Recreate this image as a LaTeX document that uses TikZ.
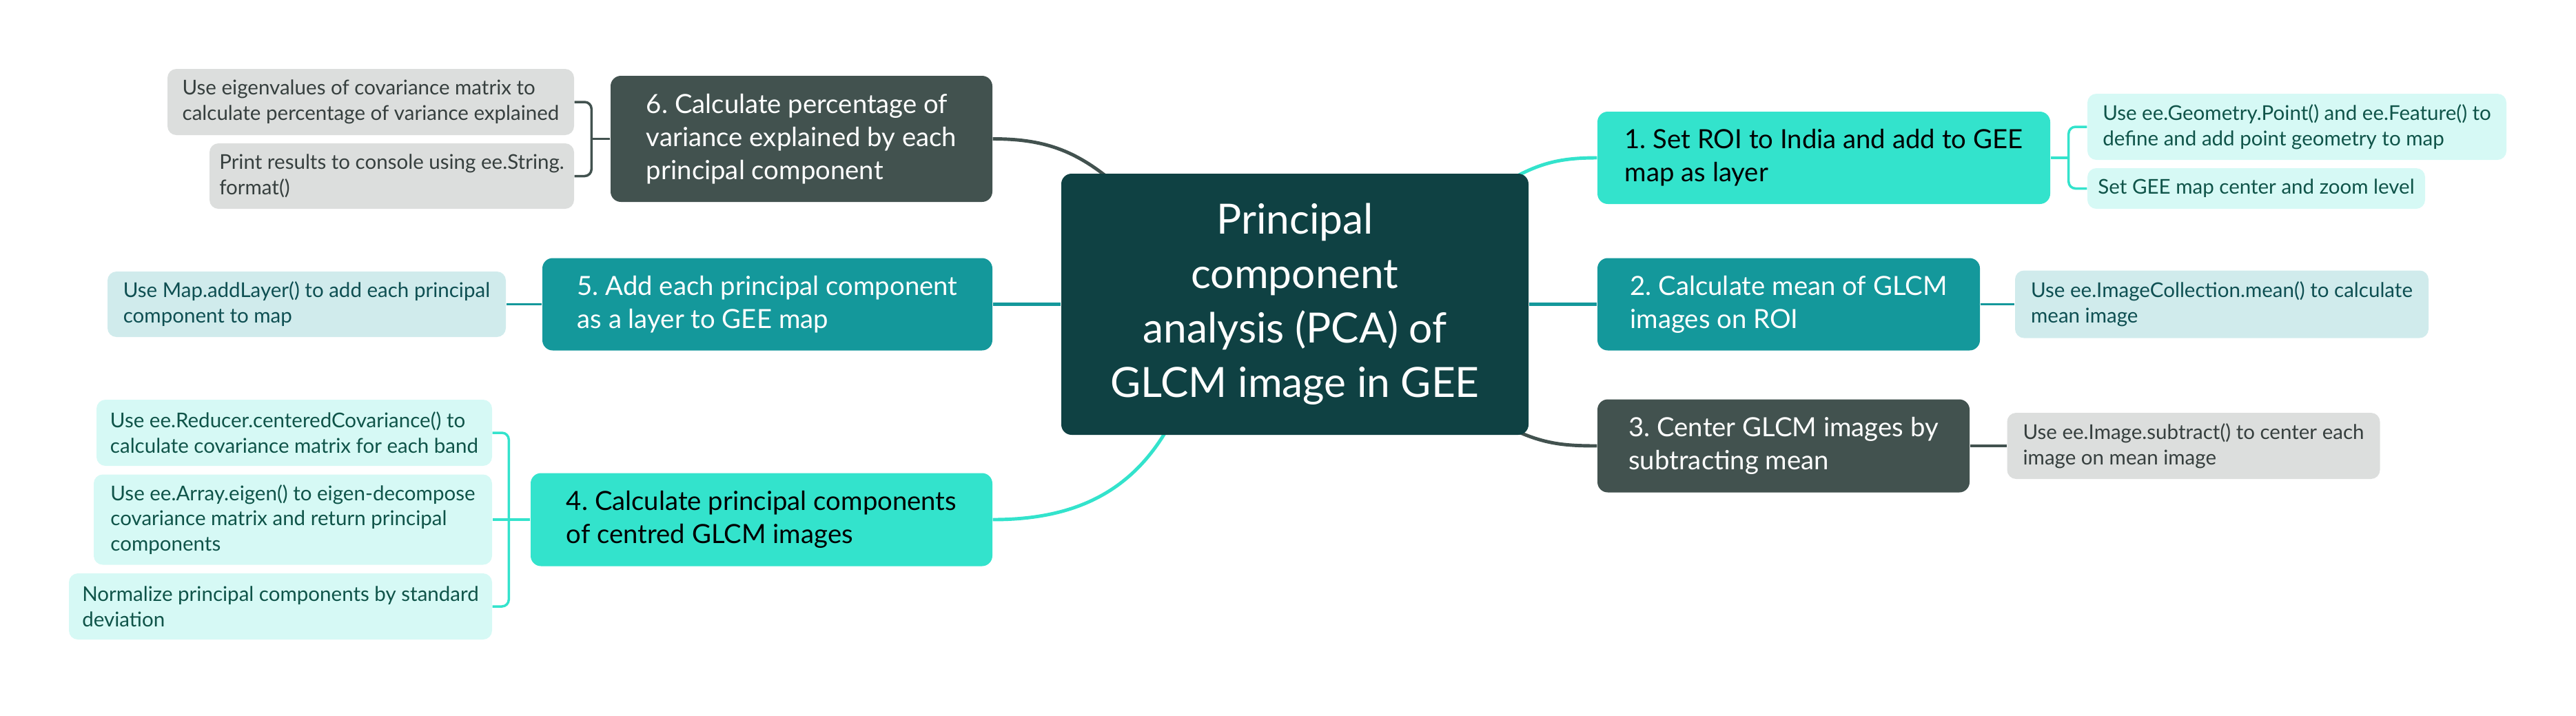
\documentclass[tikz,border=0pt]{standalone}
\usepackage{fontspec}
\setmainfont{Lato}
\usetikzlibrary{backgrounds,calc}
\definecolor{deep}{HTML}{0F4143}
\definecolor{aqua}{HTML}{33E3CC}
\definecolor{sea}{HTML}{14989B}
\definecolor{slate}{HTML}{42524F}
\definecolor{aquaL}{HTML}{D6F9F5}
\definecolor{seaL}{HTML}{D0EBEC}
\definecolor{slateL}{HTML}{DCDEDD}
\definecolor{aquaT}{HTML}{0F5449}
\definecolor{seaT}{HTML}{0E4F52}
\definecolor{slateT}{HTML}{363F3E}
\def\hubfont{\fontsize{17.2}{22.5}\selectfont}
\def\topicfont{\fontsize{10.9}{13.7}\selectfont}
\def\leaffont{\fontsize{8.4}{10.5}\selectfont}
\frenchspacing

\begin{document}
\begin{tikzpicture}[
    hub/.style={fill=deep,text=white,rounded corners=0.15cm,align=center,
      minimum width=6.78cm,minimum height=3.79cm,font=\hubfont},
    topic/.style={rounded corners=0.15cm,inner xsep=0.3cm,inner ysep=0pt,
      align=left,font=\topicfont},
    leaf/.style={rounded corners=0.13cm,inner xsep=0.1cm,inner ysep=0pt,
      align=left,font=\leaffont},
    trunk/.style={draw=#1,line width=1.4pt},
    twig/.style={draw=#1,line width=1pt}]
  \useasboundingbox (0,0) rectangle (37.38,-10.38);
  % centre
  \node[hub] (c) at (18.79,-4.415) {Principal\\component\\analysis (PCA) of\\GLCM image in GEE};
  % right side
  \node[topic,fill=aqua,text=black,minimum width=6.57cm,minimum height=1.34cm] (n1) at (26.465,-2.29)
    {1. Set ROI to India and add to GEE\\map as layer};
  \node[leaf,fill=aquaL,text=aquaT,minimum width=6.08cm,minimum height=0.96cm] (l1a) at (33.33,-1.84)
    {Use ee.Geometry.Point() and ee.Feature() to\\define and add point geometry to map};
  \node[leaf,fill=aquaL,text=aquaT,minimum width=4.90cm,minimum height=0.59cm] (l1b) at (32.74,-2.735)
    {Set GEE map center and zoom level};
  \node[topic,fill=sea,text=white,minimum width=5.55cm,minimum height=1.34cm] (n2) at (25.955,-4.415)
    {2. Calculate mean of GLCM\\images on ROI};
  \node[leaf,fill=seaL,text=seaT,minimum width=6.00cm,minimum height=0.98cm] (l2) at (32.24,-4.415)
    {Use ee.ImageCollection.mean() to calculate\\mean image};
  \node[topic,fill=slate,text=white,minimum width=5.40cm,minimum height=1.35cm] (n3) at (25.88,-6.47)
    {3. Center GLCM images by\\subtracting mean};
  \node[leaf,fill=slateL,text=slateT,minimum width=5.41cm,minimum height=0.96cm] (l3) at (31.83,-6.47)
    {Use ee.Image.subtract() to center each\\image on mean image};
  % left side
  \node[topic,fill=aqua,text=black,minimum width=6.70cm,minimum height=1.35cm] (n4) at (11.05,-7.54)
    {4. Calculate principal components\\of centred GLCM images};
  \node[leaf,fill=aquaL,text=aquaT,minimum width=5.74cm,minimum height=0.96cm] (l4a) at (4.27,-6.28)
    {Use ee.Reducer.centeredCovariance() to\\calculate covariance matrix for each band};
  \node[leaf,fill=aquaL,text=aquaT,minimum width=5.78cm,minimum height=1.31cm] (l4b) at (4.25,-7.54)
    {Use ee.Array.eigen() to eigen-decompose\\covariance matrix and return principal\\components};
  \node[leaf,fill=aquaL,text=aquaT,minimum width=6.14cm,minimum height=0.96cm] (l4c) at (4.07,-8.80)
    {Normalize principal components by standard\\deviation};
  \node[topic,fill=sea,text=white,minimum width=6.53cm,minimum height=1.34cm] (n5) at (11.135,-4.415)
    {5. Add each principal component\\as a layer to GEE map};
  \node[leaf,fill=seaL,text=seaT,minimum width=5.78cm,minimum height=0.95cm] (l5) at (4.45,-4.415)
    {Use Map.addLayer() to add each principal\\component to map};
  \node[topic,fill=slate,text=white,minimum width=5.54cm,minimum height=1.83cm] (n6) at (11.63,-2.015)
    {6. Calculate percentage of\\variance explained by each\\principal component};
  \node[leaf,fill=slateL,text=slateT,minimum width=5.90cm,minimum height=0.96cm] (l6a) at (5.38,-1.48)
    {Use eigenvalues of covariance matrix to\\calculate percentage of variance explained};
  \node[leaf,fill=slateL,text=slateT,minimum width=5.29cm,minimum height=0.95cm] (l6b) at (5.685,-2.555)
    {Print results to console using ee.String.\\format()};
  % branches
  \begin{scope}[on background layer]
    \draw[trunk=aqua] ($(c.north east)+(-0.28,-0.1)$) to[out=30,in=180] (n1.west);
    \draw[trunk=sea] (c.east) -- (n2.west);
    \draw[trunk=slate] ($(c.south east)+(-0.22,0.08)$) to[out=-25,in=180] (n3.west);
    \draw[trunk=aqua] ($(c.south west)+(1.55,0.1)$) to[out=-120,in=0] (n4.east);
    \draw[trunk=sea] (c.west) -- (n5.east);
    \draw[trunk=slate] ($(c.north west)+(0.75,-0.12)$) to[out=140,in=0] (n6.east);
  \end{scope}
  \draw[twig=aqua] (n1.east) -- ++(0.26,0) coordinate (k1);
  \draw[twig=aqua,rounded corners=0.1cm] (l1a.west) -| (k1) |- (l1b.west);
  \draw[twig=sea] (n2.east) -- (l2.west);
  \draw[twig=slate] (n3.east) -- (l3.west);
  \draw[twig=aqua] (n4.west) -- (l4b.east);
  \coordinate (k4) at ($(n4.west)+(-0.31,0)$);
  \draw[twig=aqua,rounded corners=0.1cm] (l4a.east) -| (k4) |- (l4c.east);
  \draw[twig=sea] (n5.west) -- (l5.east);
  \draw[twig=slate] (n6.west) -- ++(-0.27,0) coordinate (k6);
  \draw[twig=slate,rounded corners=0.1cm] (l6a.east) -| (k6) |- (l6b.east);
\end{tikzpicture}
\end{document}
